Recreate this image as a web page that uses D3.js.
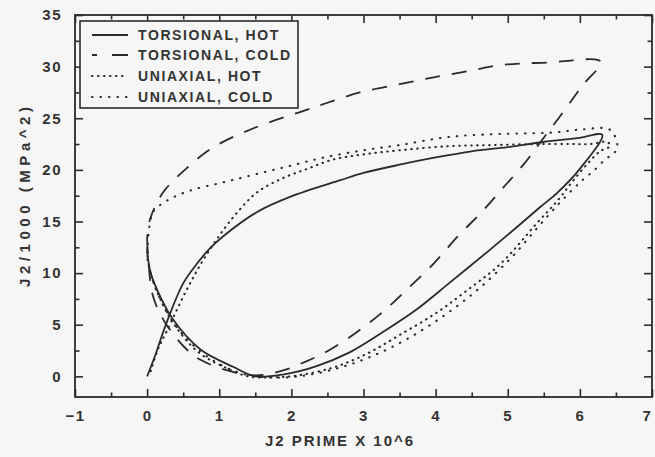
<!DOCTYPE html>
<html>
<head>
<meta charset="utf-8">
<script src="https://cdn.jsdelivr.net/npm/d3@7"></script>
<style>
  html, body { margin: 0; padding: 0; background: #f6f6f6; }
  svg { display: block; }
  text { font-family: "Liberation Sans", Arial, sans-serif; font-weight: bold; fill: #333; }
</style>
</head>
<body>
<svg id="chart" width="655" height="457"></svg>
<script>
// ---------------- data ----------------
const xTicksMajor = [-1, 0, 1, 2, 3, 4, 5, 6, 7];
const xTicksMinor = [-0.5, 0.5, 1.5, 2.5, 3.5, 4.5, 5.5, 6.5];
const yTicksMajor = [0, 5, 10, 15, 20, 25, 30, 35];
const yTicksMinor = [2.5, 7.5, 12.5, 17.5, 22.5, 27.5, 32.5];

const seriesNames = ["TORSIONAL, HOT", "TORSIONAL, COLD", "UNIAXIAL, HOT", "UNIAXIAL, COLD"];

const torsionalHot = [
  [0, 0], [0.1, 1.8], [0.27, 5.2], [0.5, 9.0], [0.69, 10.9], [0.87, 12.4], [1.06, 13.6],
  [1.52, 15.9], [1.99, 17.4], [2.68, 19.0], [3.0, 19.7], [3.5, 20.5], [4.0, 21.2],
  [4.5, 21.8], [5.0, 22.2], [5.49, 22.7], [6.0, 23.1], [6.31, 23.4],
  [6.0, 20.1], [5.69, 17.8], [5.45, 16.4], [5.1, 14.3], [4.76, 12.3], [4.2, 9.1],
  [3.74, 6.5], [3.27, 4.3], [2.8, 2.3], [2.35, 1.0], [1.9, 0.2], [1.5, 0.0],
  [1.2, 0.9], [0.74, 2.6], [0.36, 5.5], [0.15, 8.2], [0.05, 10.0], [0.01, 11.5], [0, 12.5]
];

const torsionalCold = [
  [0, 13.3], [0.02, 11.0], [0.08, 7.8], [0.25, 5.2], [0.55, 2.6], [0.74, 1.6], [1.1, 0.6],
  [1.5, 0.1], [1.85, 0.5], [2.19, 1.4], [2.54, 2.6], [2.91, 4.3], [3.26, 6.2], [3.6, 8.4],
  [3.97, 10.9], [4.3, 13.5], [4.65, 16.0], [4.94, 18.3], [5.24, 20.7], [5.52, 23.3],
  [5.8, 25.9], [6.05, 28.3], [6.3, 30.4], [6.2, 30.7], [5.9, 30.6], [5.55, 30.4],
  [5.17, 30.3], [4.85, 30.1], [4.48, 29.6], [4.0, 29.0], [3.5, 28.3], [2.95, 27.5],
  [2.5, 26.5], [2.12, 25.6], [1.5, 24.1], [0.92, 22.2], [0.57, 20.3], [0.22, 17.8],
  [0.04, 15.2], [0, 13.3]
];

const uniaxialHot = [
  [0.05, 0.5], [0.15, 2.6], [0.28, 4.5], [0.55, 8.4], [0.78, 11.3], [1.06, 14.2],
  [1.29, 16.2], [1.52, 17.8], [1.85, 19.1], [2.22, 20.1], [2.58, 21.0], [3.0, 21.5],
  [3.5, 21.9], [4.2, 22.3], [4.8, 22.4], [5.4, 22.5], [5.87, 22.5], [6.14, 22.5],
  [6.38, 22.7], [6.42, 22.3], [6.28, 21.8], [6.12, 20.7], [5.9, 18.9], [5.7, 17.1],
  [5.4, 14.8], [4.9, 10.9], [4.43, 8.3], [4.0, 6.1], [3.5, 4.0], [3.05, 2.2],
  [2.6, 0.9], [2.1, 0.1], [1.7, -0.1], [1.4, 0.0], [1.1, 0.8], [0.7, 2.4],
  [0.35, 5.3], [0.12, 8.5], [0.03, 10.5], [0, 11.5]
];

const uniaxialCold = [
  [0, 12.0], [0.04, 14.9], [0.09, 16.0], [0.27, 17.0], [0.6, 18.0], [1.06, 18.8],
  [1.52, 19.6], [1.99, 20.4], [2.45, 21.2], [3.0, 21.9], [3.5, 22.4], [4.2, 23.2],
  [5.0, 23.5], [5.59, 23.6], [6.0, 23.9], [6.38, 24.0], [6.46, 23.6], [6.52, 22.1],
  [6.45, 21.5], [6.35, 21.0], [6.19, 19.9], [6.05, 19.1], [5.9, 18.1], [5.68, 16.5],
  [5.4, 14.3], [5.05, 11.5], [4.6, 8.5], [4.1, 5.8], [3.6, 3.6], [3.1, 1.9],
  [2.6, 0.7], [2.1, 0.0], [1.7, -0.1], [1.3, 0.3], [0.9, 1.6], [0.5, 4.0],
  [0.2, 7.2], [0.05, 10.0], [0, 12.0]
];

// ---------------- layout ----------------
const ink = "#2b2b2b";
const svg = d3.select("#chart");
const x = d3.scaleLinear().domain([-1, 7]).range([75, 652]);
const y = d3.scaleLinear().domain([-2, 35]).range([397, 15]);

const styles = [
  { data: torsionalHot, dash: null, width: 1.8, cap: "butt" },
  { data: torsionalCold, dash: "15,12", width: 1.8, cap: "butt" },
  { data: uniaxialHot, dash: "0.5,5.5", width: 2.1, cap: "round" },
  { data: uniaxialCold, dash: "0.5,8", width: 2.1, cap: "round" }
];

const line = d3.line()
  .x(d => x(d[0])).y(d => y(d[1]))
  .curve(d3.curveCatmullRom.alpha(0.5));

styles.forEach(s => {
  svg.append("path")
    .attr("d", line(s.data))
    .attr("fill", "none")
    .attr("stroke", ink)
    .attr("stroke-width", s.width)
    .attr("stroke-linecap", s.cap)
    .attr("stroke-linejoin", "round")
    .attr("stroke-dasharray", s.dash);
});

// axes
function styleAxis(g) {
  g.select(".domain").remove();
  g.selectAll("line").attr("stroke", ink).attr("stroke-width", 1.6);
  g.selectAll("text").attr("fill", "#333").style("font-size", "15px")
    .style("font-family", "'Liberation Sans', Arial, sans-serif").style("font-weight", "bold")
    .style("letter-spacing", "1.5px");
}
const x0 = y(-2), y0 = x(-1), xr = x(7), yt = y(35);

const bottomAxis = svg.append("g").attr("transform", `translate(0,${x0})`)
  .call(d3.axisBottom(x).tickValues(xTicksMajor).tickSizeInner(-8).tickSizeOuter(0).tickPadding(13).tickFormat(d3.format("d")))
  .call(styleAxis);
// keep the last label ("7") inside the picture, as in the reference
bottomAxis.selectAll(".tick text").filter(d => d === 7).attr("dx", "-5");

svg.append("g").attr("transform", `translate(0,${x0})`)
  .call(d3.axisBottom(x).tickValues(xTicksMinor).tickSizeInner(-4.5).tickSizeOuter(0).tickFormat(""))
  .call(styleAxis);
svg.append("g").attr("transform", `translate(0,${yt})`)
  .call(d3.axisTop(x).tickValues(xTicksMajor).tickSizeInner(-8).tickSizeOuter(0).tickFormat(""))
  .call(styleAxis);
svg.append("g").attr("transform", `translate(0,${yt})`)
  .call(d3.axisTop(x).tickValues(xTicksMinor).tickSizeInner(-4.5).tickSizeOuter(0).tickFormat(""))
  .call(styleAxis);
svg.append("g").attr("transform", `translate(${y0},0)`)
  .call(d3.axisLeft(y).tickValues(yTicksMajor).tickSizeInner(-8).tickSizeOuter(0).tickPadding(13).tickFormat(d3.format("d")))
  .call(styleAxis);
svg.append("g").attr("transform", `translate(${y0},0)`)
  .call(d3.axisLeft(y).tickValues(yTicksMinor).tickSizeInner(-4.5).tickSizeOuter(0).tickFormat(""))
  .call(styleAxis);
svg.append("g").attr("transform", `translate(${xr},0)`)
  .call(d3.axisRight(y).tickValues(yTicksMajor).tickSizeInner(-8).tickSizeOuter(0).tickFormat(""))
  .call(styleAxis);
svg.append("g").attr("transform", `translate(${xr},0)`)
  .call(d3.axisRight(y).tickValues(yTicksMinor).tickSizeInner(-4.5).tickSizeOuter(0).tickFormat(""))
  .call(styleAxis);

// frame
svg.append("rect")
  .attr("x", y0).attr("y", yt).attr("width", xr - y0).attr("height", x0 - yt)
  .attr("fill", "none").attr("stroke", ink).attr("stroke-width", 1.8);

// axis titles
svg.append("text")
  .attr("x", 339).attr("y", 446)
  .attr("text-anchor", "middle")
  .attr("textLength", 148).attr("lengthAdjust", "spacing")
  .style("font-size", "15px")
  .text("J2 PRIME X 10^6");
svg.append("text")
  .attr("transform", "translate(30,197) rotate(-90)")
  .attr("text-anchor", "middle")
  .attr("textLength", 180).attr("lengthAdjust", "spacing")
  .style("font-size", "15px")
  .text("J2/1000 (MPa^2)");

// legend
const lg = svg.append("g");
lg.append("rect")
  .attr("x", 80).attr("y", 21).attr("width", 218).attr("height", 87)
  .attr("fill", "#f6f6f6").attr("stroke", ink).attr("stroke-width", 1.6);
const rowY = [35, 55, 76, 97];
const legendDash = [null, "5,15,16,0", "0.5,5.5", "0.5,8"];
seriesNames.forEach((name, i) => {
  lg.append("line")
    .attr("x1", 92).attr("x2", 128).attr("y1", rowY[i]).attr("y2", rowY[i])
    .attr("stroke", ink)
    .attr("stroke-width", styles[i].width)
    .attr("stroke-linecap", styles[i].cap)
    .attr("stroke-dasharray", legendDash[i]);
  lg.append("text")
    .attr("x", 138).attr("y", rowY[i]).attr("dy", "0.36em")
    .style("font-size", "14px")
    .style("letter-spacing", "1.6px")
    .text(name);
});
</script>
</body>
</html>
